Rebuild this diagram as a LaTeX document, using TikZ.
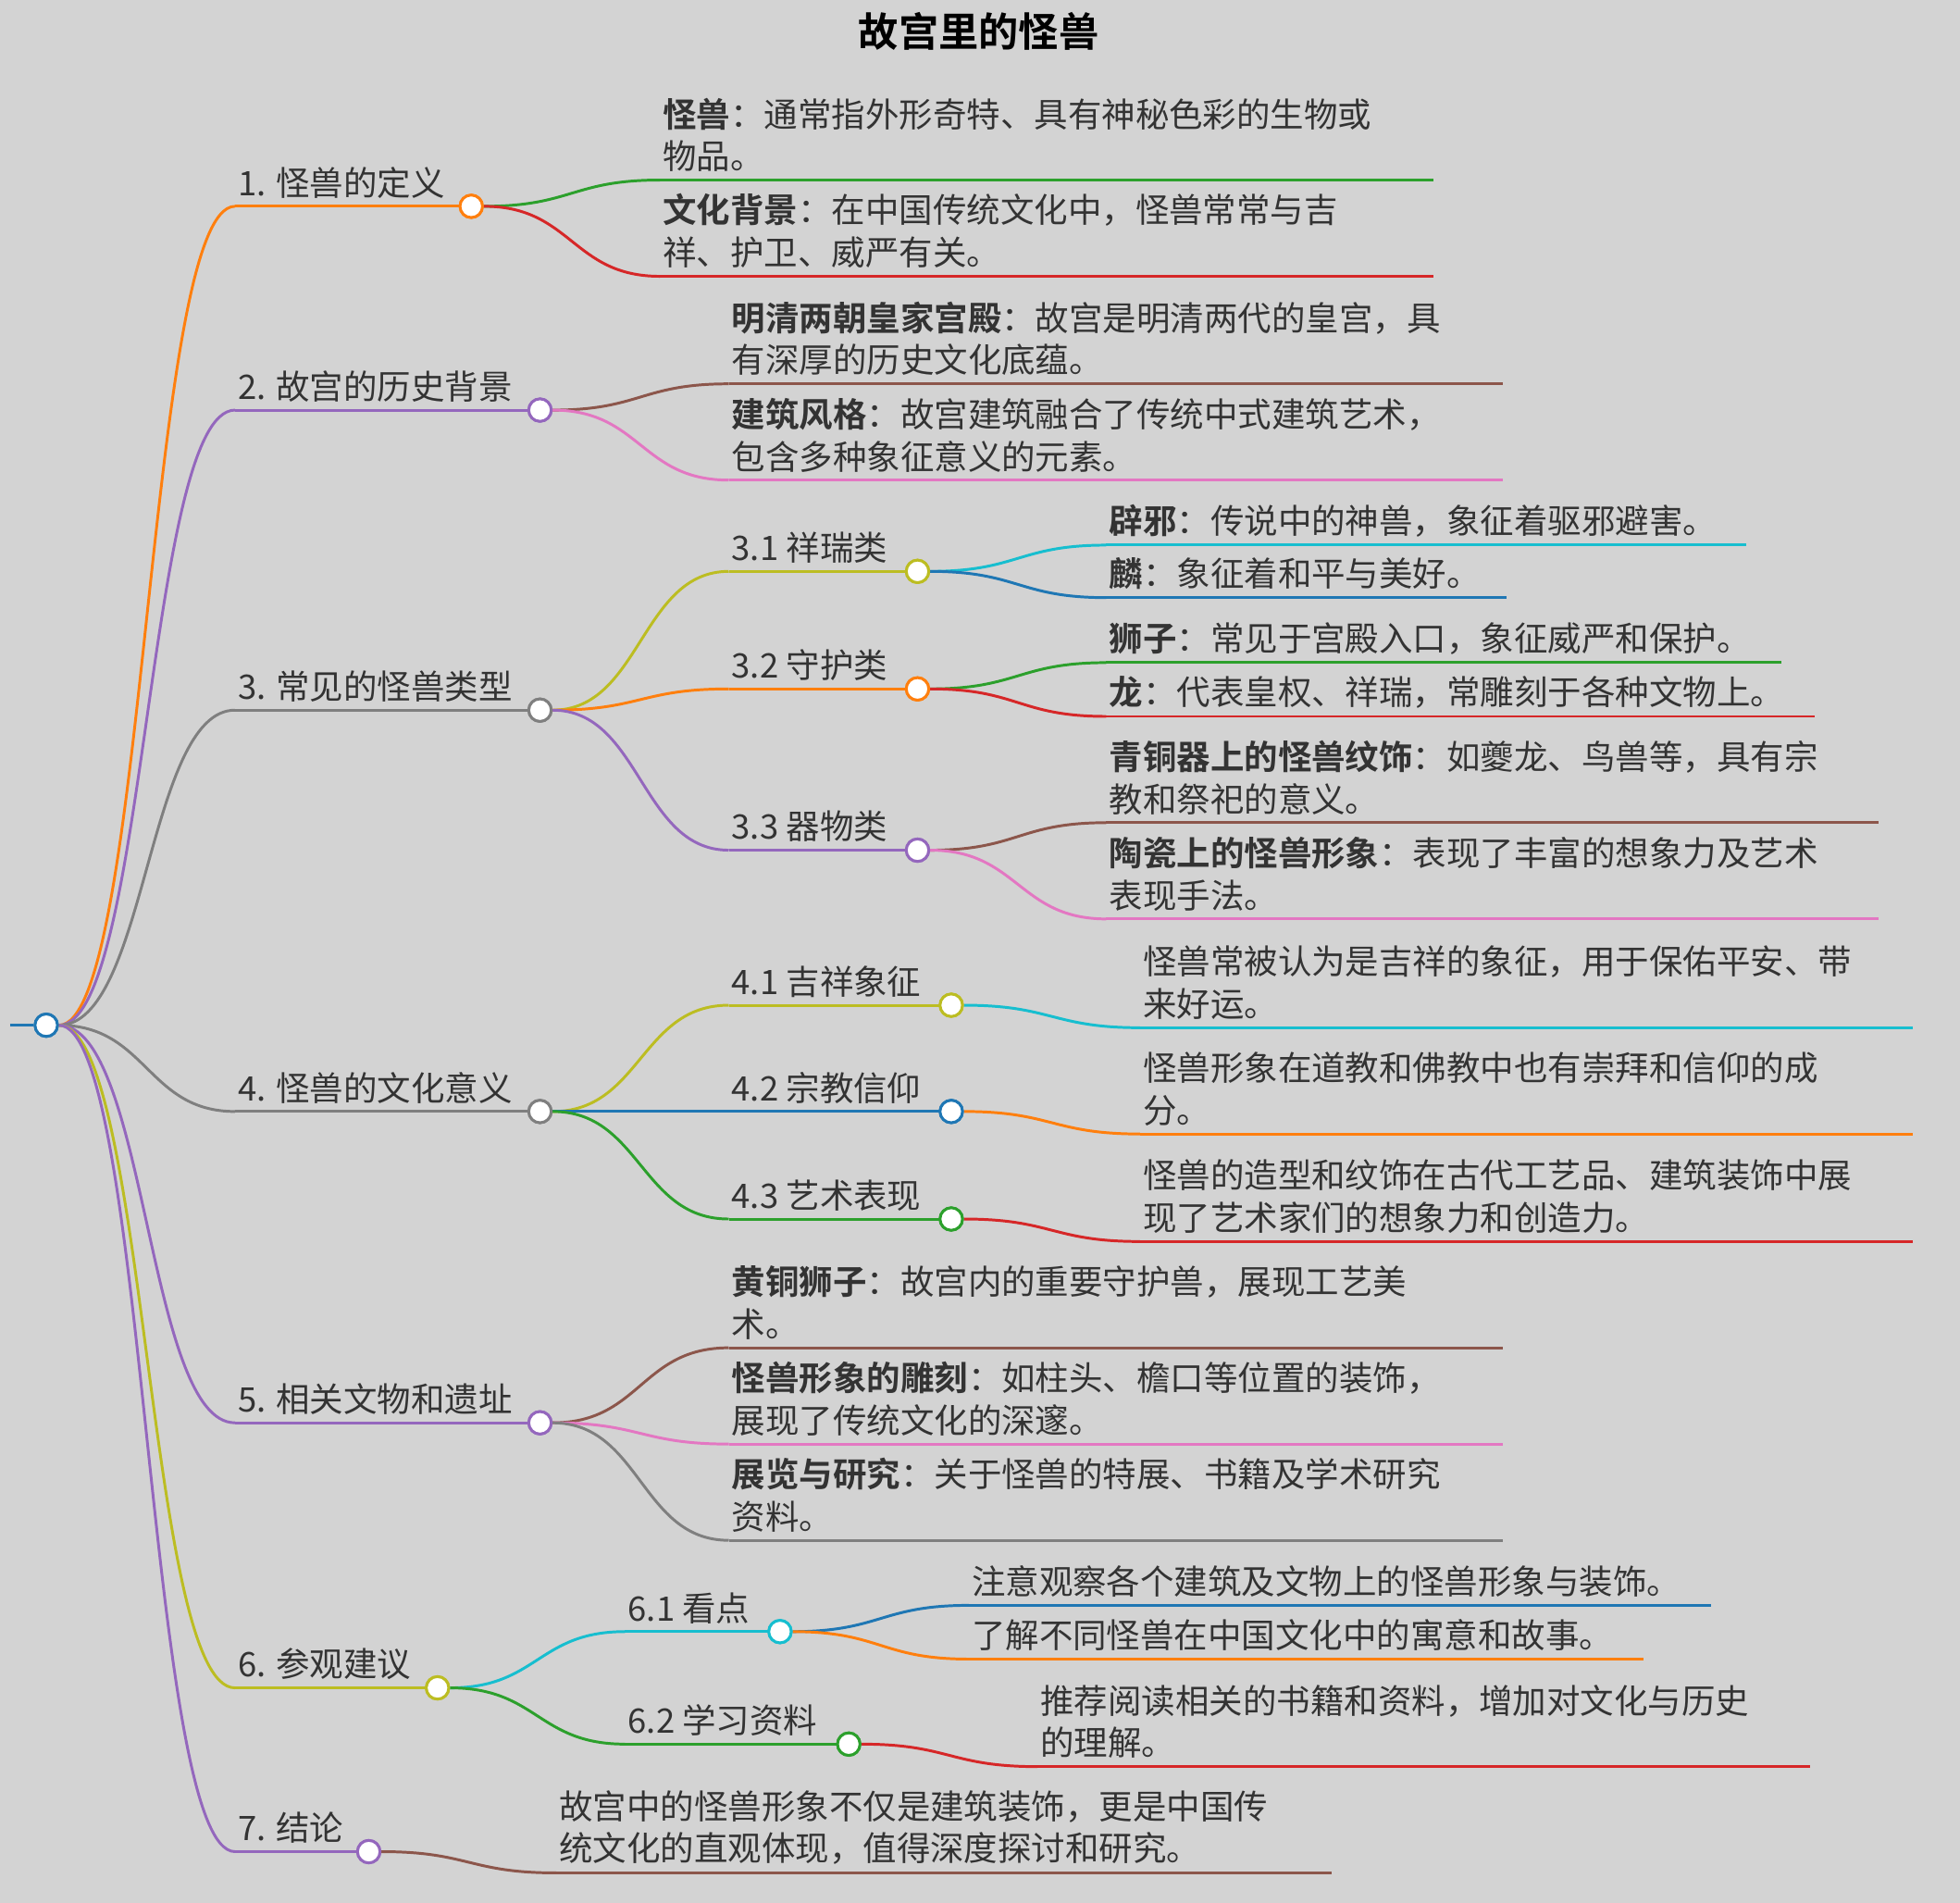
\documentclass[tikz,border=0pt]{standalone}
\usepackage{fontspec}
\setmainfont{Noto Sans CJK SC}[BoldFont={Noto Sans CJK SC Bold}]
\usetikzlibrary{calc}
\definecolor{bg}{HTML}{D3D3D3}
\definecolor{tx}{HTML}{333333}
\definecolor{cor}{HTML}{FF7F0E}
\definecolor{cpu}{HTML}{9467BD}
\definecolor{cgr}{HTML}{7F7F7F}
\definecolor{col}{HTML}{BCBD22}
\definecolor{cbl}{HTML}{1F77B4}
\definecolor{cgn}{HTML}{2CA02C}
\definecolor{crd}{HTML}{D62728}
\definecolor{cbr}{HTML}{8C564B}
\definecolor{cpk}{HTML}{E377C2}
\definecolor{ccy}{HTML}{17BECF}
\tikzset{
  edge/.style={line width=1.1pt},
  dot/.style={circle,draw,line width=1.1pt,fill=white,minimum size=9pt,inner sep=0pt},
  lbl/.style={text=tx,font=\fontsize{13.5}{17}\selectfont,inner sep=0pt,anchor=south west,align=left},
}
\newcommand\cnx[3]{\draw[edge,#1] let \p1=(#2), \p2=(#3) in (\p1) .. controls ({(\x1+\x2)/2},\y1) and ({(\x1+\x2)/2},\y2) .. (\p2);}
\newcommand\leaf[7]{%
  \coordinate (#1s) at (#4,#5); \coordinate (#1e) at (#6,#5);
  \cnx{#2}{#3.east}{#1s}
  \draw[edge,#2] (#1s)--(#1e);
  \node[lbl] (#1t) at (#4+2,#5-6) {#7};}
\newcommand\mnode[7]{%
  \coordinate (#1s) at (#4,#5);
  \cnx{#2}{#3.east}{#1s}
  \draw[edge,#2] (#1s)--(#6,#5);
  \node[dot,draw=#2] (#1) at (#6,#5) {};
  \node[lbl] (#1t) at (#4+2,#5-6) {#7};}
\begin{document}
\begin{tikzpicture}[x=0.5pt,y=-0.5pt]
\fill[bg] (0,0) rectangle (1568,1522);
\useasboundingbox (0,0) rectangle (1568,1522);
\node[text=black,font=\fontsize{16}{20}\selectfont\bfseries] (title) at (783,25) {故宫里的怪兽};
\coordinate (r0) at (8,820);
\node[dot,draw=cbl] (c0) at (37,820) {};
\draw[edge,cbl] (r0)--(c0.west);
% level 1
\mnode{c1}{cor}{c0}{188}{165}{377}{1. 怪兽的定义}
\mnode{c2}{cpu}{c0}{188}{328}{432}{2. 故宫的历史背景}
\mnode{c3}{cgr}{c0}{188}{568}{432}{3. 常见的怪兽类型}
\mnode{c4}{cgr}{c0}{188}{889}{432}{4. 怪兽的文化意义}
\mnode{c5}{cpu}{c0}{188}{1138}{432}{5. 相关文物和遗址}
\mnode{c6}{col}{c0}{188}{1350}{350}{6. 参观建议}
\mnode{c7}{cpu}{c0}{188}{1481}{295}{7. 结论}
\node[dot,draw=cbl] at (c0) {};
% 1
\leaf{l11}{cgn}{c1}{528}{144}{1147}{\textbf{怪兽}：通常指外形奇特、具有神秘色彩的生物或\\物品。}
\leaf{l12}{crd}{c1}{528}{221}{1147}{\textbf{文化背景}：在中国传统文化中，怪兽常常与吉\\祥、护卫、威严有关。}
\node[dot,draw=cor] at (c1) {};
% 2
\leaf{l21}{cbr}{c2}{583}{307}{1202}{\textbf{明清两朝皇家宫殿}：故宫是明清两代的皇宫，具\\有深厚的历史文化底蕴。}
\leaf{l22}{cpk}{c2}{583}{384}{1202}{\textbf{建筑风格}：故宫建筑融合了传统中式建筑艺术，\\包含多种象征意义的元素。}
\node[dot,draw=cpu] at (c2) {};
% 3
\mnode{c31}{col}{c3}{583}{457}{734}{3.1 祥瑞类}
\mnode{c32}{cor}{c3}{583}{551}{734}{3.2 守护类}
\mnode{c33}{cpu}{c3}{583}{680}{734}{3.3 器物类}
\node[dot,draw=cgr] at (c3) {};
\leaf{l311}{ccy}{c31}{885}{436}{1397}{\textbf{辟邪}：传说中的神兽，象征着驱邪避害。}
\leaf{l312}{cbl}{c31}{885}{478}{1205}{\textbf{麟}：象征着和平与美好。}
\node[dot,draw=col] at (c31) {};
\leaf{l321}{cgn}{c32}{885}{530}{1425}{\textbf{狮子}：常见于宫殿入口，象征威严和保护。}
\leaf{l322}{crd}{c32}{885}{573}{1452}{\textbf{龙}：代表皇权、祥瑞，常雕刻于各种文物上。}
\node[dot,draw=cor] at (c32) {};
\leaf{l331}{cbr}{c33}{885}{658}{1503}{\textbf{青铜器上的怪兽纹饰}：如夔龙、鸟兽等，具有宗\\教和祭祀的意义。}
\leaf{l332}{cpk}{c33}{885}{735}{1503}{\textbf{陶瓷上的怪兽形象}：表现了丰富的想象力及艺术\\表现手法。}
\node[dot,draw=cpu] at (c33) {};
% 4
\mnode{c41}{col}{c4}{583}{804}{761}{4.1 吉祥象征}
\mnode{c42}{cbl}{c4}{583}{889}{761}{4.2 宗教信仰}
\mnode{c43}{cgn}{c4}{583}{975}{761}{4.3 艺术表现}
\node[dot,draw=cgr] at (c4) {};
\leaf{l41}{ccy}{c41}{912}{822}{1530}{怪兽常被认为是吉祥的象征，用于保佑平安、带\\来好运。}
\node[dot,draw=col] at (c41) {};
\leaf{l42}{cor}{c42}{912}{907}{1530}{怪兽形象在道教和佛教中也有崇拜和信仰的成\\分。}
\node[dot,draw=cbl] at (c42) {};
\leaf{l43}{crd}{c43}{912}{993}{1530}{怪兽的造型和纹饰在古代工艺品、建筑装饰中展\\现了艺术家们的想象力和创造力。}
\node[dot,draw=cgn] at (c43) {};
% 5
\leaf{l51}{cbr}{c5}{583}{1078}{1202}{\textbf{黄铜狮子}：故宫内的重要守护兽，展现工艺美\\术。}
\leaf{l52}{cpk}{c5}{583}{1155}{1202}{\textbf{怪兽形象的雕刻}：如柱头、檐口等位置的装饰，\\展现了传统文化的深邃。}
\leaf{l53}{cgr}{c5}{583}{1232}{1202}{\textbf{展览与研究}：关于怪兽的特展、书籍及学术研究\\资料。}
\node[dot,draw=cpu] at (c5) {};
% 6
\mnode{c61}{ccy}{c6}{500}{1305}{624}{6.1 看点}
\mnode{c62}{cgn}{c6}{500}{1395}{679}{6.2 学习资料}
\node[dot,draw=col] at (c6) {};
\leaf{l611}{cbl}{c61}{775}{1284}{1369}{注意观察各个建筑及文物上的怪兽形象与装饰。}
\leaf{l612}{cor}{c61}{775}{1327}{1315}{了解不同怪兽在中国文化中的寓意和故事。}
\node[dot,draw=ccy] at (c61) {};
\leaf{l621}{crd}{c62}{830}{1413}{1448}{推荐阅读相关的书籍和资料，增加对文化与历史\\的理解。}
\node[dot,draw=cgn] at (c62) {};
% 7
\leaf{l71}{cbr}{c7}{445}{1498}{1065}{故宫中的怪兽形象不仅是建筑装饰，更是中国传\\统文化的直观体现，值得深度探讨和研究。}
\node[dot,draw=cpu] at (c7) {};
\end{tikzpicture}
\end{document}
